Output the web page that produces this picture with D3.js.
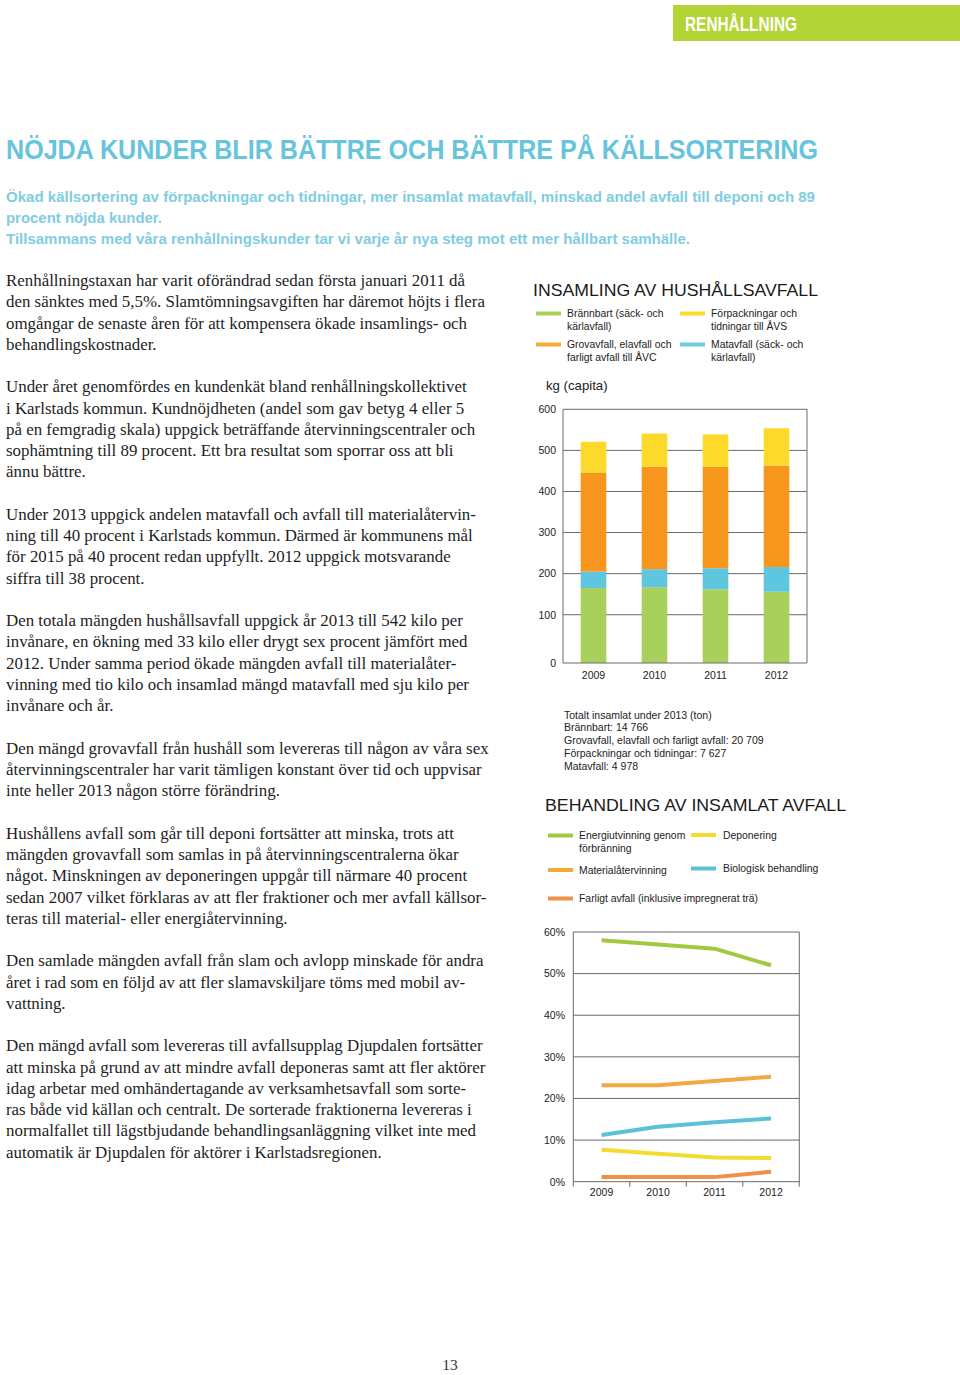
<!DOCTYPE html>
<html><head><meta charset="utf-8">
<script src="https://cdn.jsdelivr.net/npm/d3@7"></script>
<style>
html,body{margin:0;padding:0;background:#fff;}
svg{display:block;}
</style></head>
<body>
<svg id="page" width="960" height="1375"></svg>
<script>
// ---------- DATA ----------
const years = ["2009", "2010", "2011", "2012"];
// Insamling av hushållsavfall, kg per capita
const brannbart = [165, 167, 162, 156];
const matavfall = [40, 44, 51, 60];
const grovavfall = [240, 249, 247, 247];
const forpackningar = [76, 81, 79, 91];
const barTicks = [0, 100, 200, 300, 400, 500, 600];
// Behandling av insamlat avfall, %
const energiutvinning = [58, 57, 56, 52];
const materialatervinning = [23.2, 23.2, 24.2, 25.2];
const biologisk = [11.2, 13.2, 14.3, 15.2];
const deponering = [7.7, 6.7, 5.8, 5.7];
const farligt = [1.1, 1.1, 1.1, 2.4];
const lineTicks = [0, 10, 20, 30, 40, 50, 60];

const totalsLines = [
  "Totalt insamlat under 2013 (ton)",
  "Brännbart: 14 766",
  "Grovavfall, elavfall och farligt avfall: 20 709",
  "Förpackningar och tidningar: 7 627",
  "Matavfall: 4 978"
];

const bodyLines = [
  "Renhållningstaxan har varit oförändrad sedan första januari 2011 då",
  "den sänktes med 5,5%. Slamtömningsavgiften har däremot höjts i flera",
  "omgångar de senaste åren för att kompensera ökade insamlings- och",
  "behandlingskostnader.",
  "",
  "Under året genomfördes en kundenkät bland renhållningskollektivet",
  "i Karlstads kommun. Kundnöjdheten (andel som gav betyg 4 eller 5",
  "på en femgradig skala) uppgick beträffande återvinningscentraler och",
  "sophämtning till 89 procent. Ett bra resultat som sporrar oss att bli",
  "ännu bättre.",
  "",
  "Under 2013 uppgick andelen matavfall och avfall till materialåtervin-",
  "ning till 40 procent i Karlstads kommun. Därmed är kommunens mål",
  "för 2015 på 40 procent redan uppfyllt. 2012 uppgick motsvarande",
  "siffra till 38 procent.",
  "",
  "Den totala mängden hushållsavfall uppgick år 2013 till 542 kilo per",
  "invånare, en ökning med 33 kilo eller drygt sex procent jämfört med",
  "2012. Under samma period ökade mängden avfall till materialåter-",
  "vinning med tio kilo och insamlad mängd matavfall med sju kilo per",
  "invånare och år.",
  "",
  "Den mängd grovavfall från hushåll som levereras till någon av våra sex",
  "återvinningscentraler har varit tämligen konstant över tid och uppvisar",
  "inte heller 2013 någon större förändring.",
  "",
  "Hushållens avfall som går till deponi fortsätter att minska, trots att",
  "mängden grovavfall som samlas in på återvinningscentralerna ökar",
  "något. Minskningen av deponeringen uppgår till närmare 40 procent",
  "sedan 2007 vilket förklaras av att fler fraktioner och mer avfall källsor-",
  "teras till material- eller energiåtervinning.",
  "",
  "Den samlade mängden avfall från slam och avlopp minskade för andra",
  "året i rad som en följd av att fler slamavskiljare töms med mobil av-",
  "vattning.",
  "",
  "Den mängd avfall som levereras till avfallsupplag Djupdalen fortsätter",
  "att minska på grund av att mindre avfall deponeras samt att fler aktörer",
  "idag arbetar med omhändertagande av verksamhetsavfall som sorte-",
  "ras både vid källan och centralt. De sorterade fraktionerna levereras i",
  "normalfallet till lägstbjudande behandlingsanläggning vilket inte med",
  "automatik är Djupdalen för aktörer i Karlstadsregionen."
];

// ---------- STYLE ----------
const SANS = "'Liberation Sans', Arial, sans-serif";
const NARROW = "'Liberation Sans Narrow', 'Liberation Sans', Arial, sans-serif";
const SERIF = "'Liberation Serif', 'Times New Roman', serif";
const gridCol = "#6a6a6a";
const barColors = { brannbart: "#a9d05b", matavfall: "#5ec6de", grovavfall: "#f7961d", forpackningar: "#fdd92c" };
const lineColors = { energi: "#a3c83f", material: "#f3a846", bio: "#5cc0d7", depo: "#f3dc2f", farligt: "#f08f48" };

const svg = d3.select("#page");

// ---------- HEADER ----------
svg.append("rect").attr("x", 673).attr("y", 5).attr("width", 287).attr("height", 36).attr("fill", "#b4d334");
svg.append("text").attr("x", 685).attr("y", 30.5).attr("fill", "#fff")
  .attr("font-family", NARROW).attr("font-weight", "bold").attr("font-size", 20)
  .attr("textLength", 112).attr("lengthAdjust", "spacingAndGlyphs").text("RENHÅLLNING");

svg.append("text").attr("x", 6).attr("y", 158.5).attr("fill", "#66c4dc")
  .attr("font-family", NARROW).attr("font-weight", "bold").attr("font-size", 28)
  .attr("textLength", 812).attr("lengthAdjust", "spacingAndGlyphs")
  .text("NÖJDA KUNDER BLIR BÄTTRE OCH BÄTTRE PÅ KÄLLSORTERING");

const subs = [
  { t: "Ökad källsortering av förpackningar och tidningar, mer insamlat matavfall, minskad andel avfall till deponi och 89", w: 809 },
  { t: "procent nöjda kunder.", w: 156 },
  { t: "Tillsammans med våra renhållningskunder tar vi varje år nya steg mot ett mer hållbart samhälle.", w: 684 }
];
svg.selectAll("text.sub").data(subs).join("text").attr("class", "sub")
  .attr("x", 6).attr("y", (d, i) => 201.5 + i * 21)
  .attr("fill", "#80cde1").attr("font-family", NARROW).attr("font-weight", "bold").attr("font-size", 15.5)
  .attr("textLength", d => d.w).attr("lengthAdjust", "spacingAndGlyphs").text(d => d.t);

// ---------- BODY TEXT ----------
svg.append("g").selectAll("text").data(bodyLines).join("text")
  .attr("x", 6).attr("y", (d, i) => 286 + i * 21.26)
  .attr("fill", "#1e1e1e").attr("font-family", SERIF).attr("font-size", 16.9)
  .text(d => d);

svg.append("text").attr("x", 450).attr("y", 1370).attr("text-anchor", "middle")
  .attr("fill", "#333").attr("font-family", SERIF).attr("font-size", 15.5).text("13");

// ---------- LEGEND helper ----------
function legendItem(g, x, y, color, lines, textDx) {
  g.append("line").attr("x1", x).attr("x2", x + 25).attr("y1", y).attr("y2", y)
    .attr("stroke", color).attr("stroke-width", 4);
  g.append("g").selectAll("text").data(lines).join("text")
    .attr("x", x + textDx).attr("y", (d, i) => y + 3.6 + i * 12.8)
    .attr("fill", "#222").attr("font-family", SANS).attr("font-size", 10.4).text(d => d);
}

// ---------- CHART 1: INSAMLING ----------
const c1 = svg.append("g");
c1.append("text").attr("x", 533).attr("y", 295.5).attr("fill", "#1a1a1a")
  .attr("font-family", SANS).attr("font-size", 16.5)
  .attr("textLength", 285).attr("lengthAdjust", "spacingAndGlyphs")
  .text("INSAMLING AV HUSHÅLLSAVFALL");

legendItem(c1, 536, 313.5, barColors.brannbart, ["Brännbart (säck- och", "kärlavfall)"], 31);
legendItem(c1, 680, 313.5, barColors.forpackningar, ["Förpackningar och", "tidningar till ÅVS"], 31);
legendItem(c1, 536, 344.5, "#f4ae38", ["Grovavfall, elavfall och", "farligt avfall till ÅVC"], 31);
legendItem(c1, 680, 344.5, "#6ccbe0", ["Matavfall (säck- och", "kärlavfall)"], 31);

c1.append("text").attr("x", 546).attr("y", 390).attr("fill", "#222")
  .attr("font-family", SANS).attr("font-size", 13.2).text("kg (capita)");

const p1 = { left: 563, right: 807, top: 409.3, bottom: 663 };
const axisFloor = -17.5; // bottom of plot sits slightly below the 0 value in the original
const yB = d3.scaleLinear().domain([axisFloor, 600]).range([p1.bottom, p1.top]);
const xB = d3.scaleBand().domain(years).range([p1.left, p1.right]).paddingInner(0.58).paddingOuter(0.29);

// gridlines
c1.append("g").selectAll("line").data(barTicks.filter(v => v > 0)).join("line")
  .attr("x1", p1.left).attr("x2", p1.right).attr("y1", d => yB(d)).attr("y2", d => yB(d))
  .attr("stroke", gridCol).attr("stroke-width", 1);

const barTable = years.map((y, i) => ({ year: y, brannbart: brannbart[i], matavfall: matavfall[i], grovavfall: grovavfall[i], forpackningar: forpackningar[i] }));
const keys = ["brannbart", "matavfall", "grovavfall", "forpackningar"];
const stacked = d3.stack().keys(keys)(barTable);
c1.append("g").selectAll("g").data(stacked).join("g").attr("fill", s => barColors[s.key])
  .selectAll("rect").data(s => s).join("rect")
  .attr("x", d => xB(d.data.year)).attr("width", xB.bandwidth())
  .attr("y", d => yB(d[1]))
  .attr("height", d => yB(d[0] === 0 ? axisFloor : d[0]) - yB(d[1]));

// frame
c1.append("line").attr("x1", p1.left).attr("x2", p1.left).attr("y1", p1.top).attr("y2", p1.bottom).attr("stroke", gridCol);
c1.append("line").attr("x1", p1.right).attr("x2", p1.right).attr("y1", p1.top).attr("y2", p1.bottom).attr("stroke", gridCol);
c1.append("line").attr("x1", p1.left).attr("x2", p1.right).attr("y1", p1.bottom).attr("y2", p1.bottom).attr("stroke", gridCol);

// y labels
c1.append("g").selectAll("text").data(barTicks).join("text")
  .attr("x", 556).attr("y", d => (d === 0 ? yB(axisFloor) : yB(d)) + 3.8).attr("text-anchor", "end")
  .attr("fill", "#222").attr("font-family", SANS).attr("font-size", 10.5).text(d => d);
// x labels
c1.append("g").selectAll("text").data(years).join("text")
  .attr("x", d => xB(d) + xB.bandwidth() / 2).attr("y", 679).attr("text-anchor", "middle")
  .attr("fill", "#222").attr("font-family", SANS).attr("font-size", 10.5).text(d => d);

// totals
c1.append("g").selectAll("text").data(totalsLines).join("text")
  .attr("x", 564).attr("y", (d, i) => 718.5 + i * 12.8)
  .attr("fill", "#222").attr("font-family", SANS).attr("font-size", 10.5).text(d => d);

// ---------- CHART 2: BEHANDLING ----------
const c2 = svg.append("g");
c2.append("text").attr("x", 545).attr("y", 811).attr("fill", "#1a1a1a")
  .attr("font-family", SANS).attr("font-size", 16.5)
  .attr("textLength", 301).attr("lengthAdjust", "spacingAndGlyphs")
  .text("BEHANDLING AV INSAMLAT AVFALL");

legendItem(c2, 548, 835.5, lineColors.energi, ["Energiutvinning genom", "förbränning"], 31);
legendItem(c2, 691, 835, lineColors.depo, ["Deponering"], 32);
legendItem(c2, 548, 870, "#f2ab38", ["Materialåtervinning"], 31);
legendItem(c2, 691, 868.5, lineColors.bio, ["Biologisk behandling"], 32);
legendItem(c2, 548, 898.5, lineColors.farligt, ["Farligt avfall (inklusive impregnerat trä)"], 31);

const p2 = { left: 573.3, right: 799.3, top: 932, bottom: 1181.7 };
const yL = d3.scaleLinear().domain([0, 60]).range([p2.bottom, p2.top]);
const xL = d3.scaleBand().domain(years).range([p2.left, p2.right]);

c2.append("g").selectAll("line").data(lineTicks).join("line")
  .attr("x1", p2.left).attr("x2", p2.right).attr("y1", d => yL(d)).attr("y2", d => yL(d))
  .attr("stroke", gridCol).attr("stroke-width", 1);
c2.append("line").attr("x1", p2.left).attr("x2", p2.left).attr("y1", p2.top).attr("y2", p2.bottom + 5).attr("stroke", gridCol);
c2.append("line").attr("x1", p2.right).attr("x2", p2.right).attr("y1", p2.top).attr("y2", p2.bottom + 5).attr("stroke", gridCol);
// inner ticks at band boundaries
c2.append("g").selectAll("line").data(years.slice(1)).join("line")
  .attr("x1", d => xL(d)).attr("x2", d => xL(d)).attr("y1", p2.bottom).attr("y2", p2.bottom + 5)
  .attr("stroke", gridCol);

const series = [
  { key: "energi", values: energiutvinning },
  { key: "material", values: materialatervinning },
  { key: "bio", values: biologisk },
  { key: "depo", values: deponering },
  { key: "farligt", values: farligt }
];
const lineGen = d3.line().x((d, i) => xL(years[i]) + xL.bandwidth() / 2).y(d => yL(d));
c2.append("g").selectAll("path").data(series).join("path")
  .attr("d", s => lineGen(s.values)).attr("fill", "none")
  .attr("stroke", s => lineColors[s.key]).attr("stroke-width", 4).attr("stroke-linejoin", "round");

c2.append("g").selectAll("text").data(lineTicks).join("text")
  .attr("x", 565).attr("y", d => yL(d) + 3.8).attr("text-anchor", "end")
  .attr("fill", "#222").attr("font-family", SANS).attr("font-size", 10.5).text(d => d + "%");
c2.append("g").selectAll("text").data(years).join("text")
  .attr("x", d => xL(d) + xL.bandwidth() / 2).attr("y", 1196).attr("text-anchor", "middle")
  .attr("fill", "#222").attr("font-family", SANS).attr("font-size", 10.5).text(d => d);
</script>
</body></html>
